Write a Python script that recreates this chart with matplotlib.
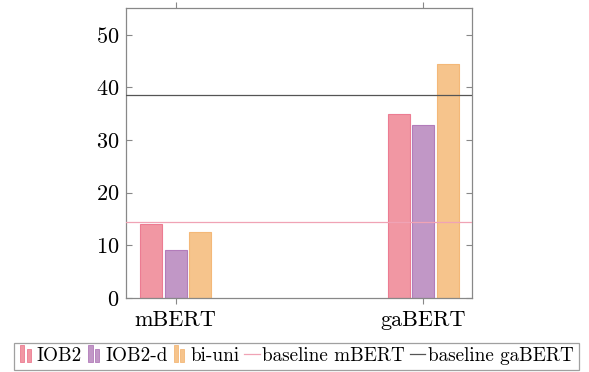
import numpy as np
import matplotlib
matplotlib.use("Agg")
import matplotlib.pyplot as plt
from matplotlib.patches import Rectangle
from matplotlib.legend_handler import HandlerBase

plt.rcParams['font.family'] = ['cmr10', 'DejaVu Serif']
plt.rcParams['axes.formatter.use_mathtext'] = True

models = ['mBERT', 'gaBERT']
schemes = ['IOB2', 'IOB2-d', 'bi-uni']
scores = {
    'IOB2': [14.1, 35.0],
    'IOB2-d': [9.1, 32.8],
    'bi-uni': [12.6, 44.5],
}
baseline_mbert = 14.4
baseline_gabert = 38.6

faces = {'IOB2': '#f197a3', 'IOB2-d': '#c197c6', 'bi-uni': '#f6c48c'}
edges = {'IOB2': '#ec7c92', 'IOB2-d': '#b27cba', 'bi-uni': '#f4b878'}


class BarIcon(HandlerBase):
    # two little bars like the pgfplots ybar legend
    def create_artists(self, legend, orig, xd, yd, w, h, fontsize, trans):
        bw = w * 0.28
        r1 = Rectangle((xd + w * 0.1, yd - h * 0.1), bw, h * 1.15,
                       facecolor=orig.get_facecolor(), edgecolor=orig.get_edgecolor(),
                       lw=0.6, transform=trans)
        r2 = Rectangle((xd + w * 0.1 + bw * 1.5, yd - h * 0.1), bw, h * 0.9,
                       facecolor=orig.get_facecolor(), edgecolor=orig.get_edgecolor(),
                       lw=0.6, transform=trans)
        return [r1, r2]


fig = plt.figure(figsize=(5.89, 3.72), dpi=100)
ax = fig.add_axes([0.214, 0.199, 0.587, 0.779])

x = np.arange(len(models))
width = 0.089
offsets = [-0.1, 0.0, 0.1]
handles = []
for s, off in zip(schemes, offsets):
    b = ax.bar(x + off, scores[s], width, color=faces[s], edgecolor=edges[s],
               linewidth=0.8, label=s, zorder=2)
    handles.append(b.patches[0])

l1 = ax.axhline(baseline_mbert, color='#f0a3b5', lw=0.9, zorder=3, label='baseline mBERT')
l2 = ax.axhline(baseline_gabert, color='#555555', lw=0.9, zorder=3, label='baseline gaBERT')

ax.set_xlim(-0.2, 1.195)
ax.set_ylim(0, 55)
ax.set_yticks([0, 10, 20, 30, 40, 50])
ax.set_xticks(x)
ax.set_xticklabels(models)
ax.tick_params(axis='y', direction='in', left=True, right=True, length=4,
               color='#888888', labelsize=16, pad=5)
ax.tick_params(axis='x', direction='out', bottom=True, top=True, length=4,
               color='#888888', labelsize=16, pad=5)
for sp in ax.spines.values():
    sp.set_color('#888888')
    sp.set_linewidth(0.9)

leg = fig.legend(handles + [l1, l2], schemes + ['baseline mBERT', 'baseline gaBERT'],
                 handler_map={h: BarIcon() for h in handles},
                 loc='lower center', bbox_to_anchor=(0.503, 0.0), ncol=5, fontsize=13.8,
                 frameon=True, fancybox=False, edgecolor='#888888',
                 handlelength=0.8, handleheight=0.8, handletextpad=0.15, columnspacing=0.25,
                 borderpad=0.25, borderaxespad=0.1)
leg.get_frame().set_linewidth(0.9)

fig.savefig('out.png', dpi=100)
